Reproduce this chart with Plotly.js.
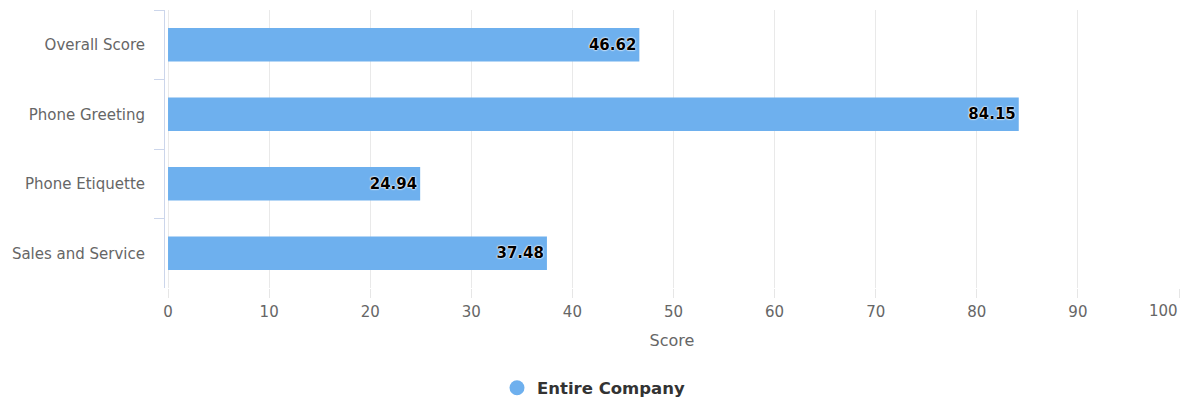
<!DOCTYPE html>
<html>
<head>
<meta charset="utf-8">
<script src="https://cdn.plot.ly/plotly-3.0.1.min.js"></script>
<style>html,body{margin:0;padding:0;background:#fff;}#chart{width:1187px;height:400px;}</style>
</head>
<body>
<div id="chart"></div>
<script>
const categories = ["Overall Score", "Phone Greeting", "Phone Etiquette", "Sales and Service"];
const scores = [46.62, 84.15, 24.94, 37.48];
const seriesName = "Entire Company";
const xTickVals = [0, 10, 20, 30, 40, 50, 60, 70, 80, 90, 100];
const xTickLabels = ["0", "10", "20", "30", "40", "50", "60", "70", "80", "90", "100"];

const barColor = "#6eb0ee";
const fontFamily = "'DejaVu Sans', Verdana, sans-serif";
const lastIdx = xTickVals.length - 1;

const data = [
  {
    type: "bar",
    orientation: "h",
    y: categories,
    x: scores,
    name: seriesName,
    showlegend: false,
    marker: { color: barColor },
    text: scores.map(v => v.toFixed(2)),
    textposition: "inside",
    insidetextanchor: "end",
    textangle: 0,
    constraintext: "none",
    insidetextfont: { family: fontFamily, size: 15, color: "#000", weight: "bold",
      shadow: "0px 0px 2px #fff, 0px 0px 2px #fff, 0px 0px 1px #fff" },
    hoverinfo: "x+y"
  },
  {
    type: "scatter",
    mode: "markers",
    x: [null],
    y: [null],
    name: seriesName,
    showlegend: true,
    marker: { color: barColor, size: 15, symbol: "circle" }
  }
];

const layout = {
  width: 1187,
  height: 400,
  margin: { l: 165, r: 8, t: 10, b: 112, pad: 0 },
  paper_bgcolor: "#fff",
  plot_bgcolor: "#fff",
  font: { family: fontFamily, size: 15, color: "#666" },
  bargap: 0.52,
  xaxis: {
    range: [-0.3, 100],
    tickvals: xTickVals,
    ticktext: xTickLabels.map((t, i) => i === lastIdx ? "" : t),
    showgrid: true,
    gridcolor: "#e9e9e9",
    gridwidth: 1,
    zeroline: false,
    showline: false,
    ticks: "outside",
    ticklen: 9,
    tickcolor: "#e6e6e6",
    ticklabelstandoff: 1,
    automargin: false,
    tickfont: { family: fontFamily, size: 15, color: "#666" },
    title: { text: "Score", font: { family: fontFamily, size: 16, color: "#666" }, standoff: 14 },
    fixedrange: true
  },
  yaxis: {
    type: "category",
    autorange: "reversed",
    tickson: "boundaries",
    ticks: "outside",
    ticklen: 10,
    tickcolor: "#ccd6eb",
    showline: true,
    linecolor: "#ccd6eb",
    linewidth: 1,
    showgrid: false,
    zeroline: false,
    automargin: false,
    tickfont: { family: fontFamily, size: 15, color: "#666" },
    ticklabelstandoff: 16,
    fixedrange: true
  },
  annotations: [
    {
      x: xTickVals[lastIdx],
      xref: "x",
      xanchor: "right",
      y: 0,
      yref: "paper",
      yanchor: "top",
      yshift: -12,
      xshift: 1,
      text: xTickLabels[lastIdx],
      showarrow: false,
      font: { family: fontFamily, size: 15, color: "#666" }
    }
  ],
  legend: {
    orientation: "h",
    xref: "container",
    x: 0.5,
    xanchor: "center",
    yref: "container",
    y: 0.03,
    yanchor: "middle",
    font: { family: fontFamily, size: 16.5, color: "#333", weight: "bold" }
  },
  showlegend: true
};

Plotly.newPlot("chart", data, layout, { displayModeBar: false, staticPlot: true });
</script>
</body>
</html>
